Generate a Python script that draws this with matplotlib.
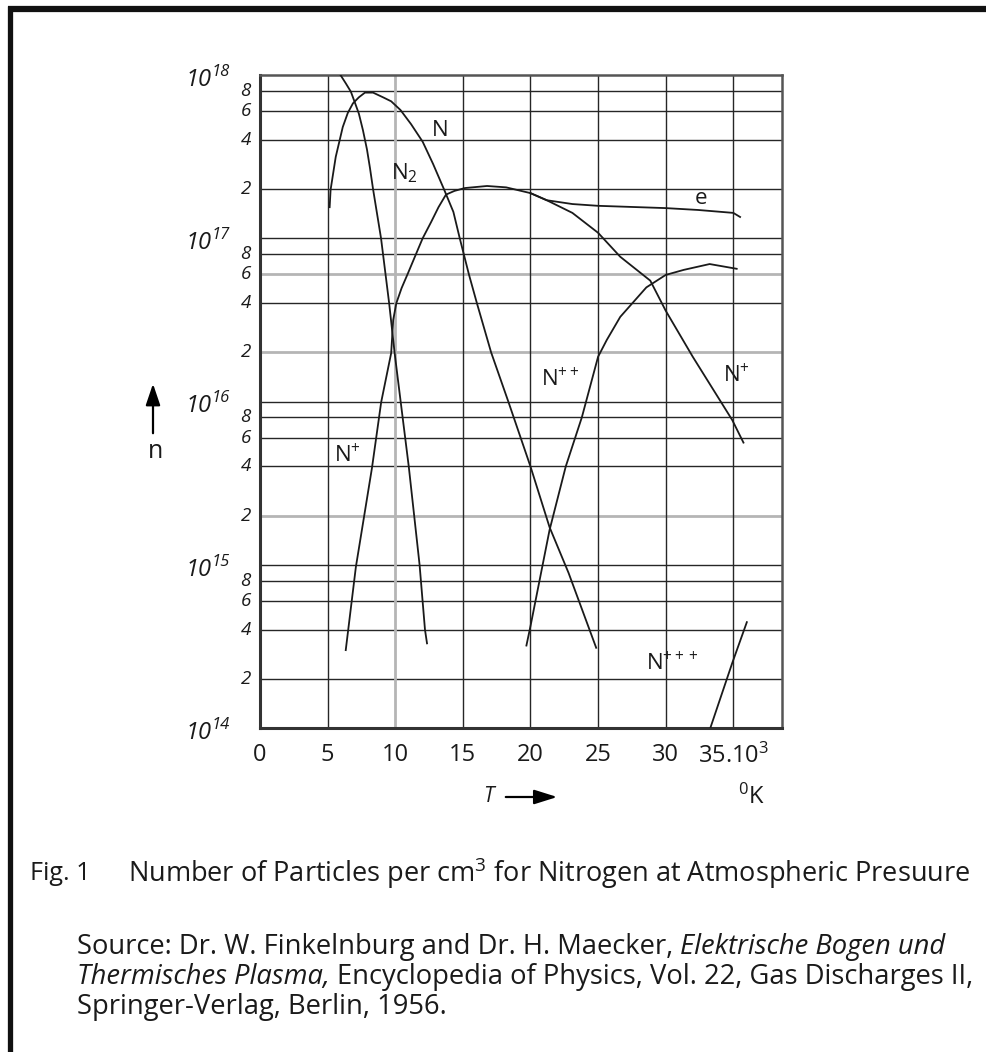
import matplotlib
matplotlib.use("Agg")
import matplotlib.pyplot as plt
from matplotlib.lines import Line2D
import matplotlib.transforms as mtransforms

plt.rcParams['font.family'] = ['Open Sans', 'DejaVu Sans']
plt.rcParams['mathtext.fontset'] = 'custom'
plt.rcParams['mathtext.rm'] = 'Open Sans'
plt.rcParams['mathtext.it'] = 'Open Sans:italic'

# T in 10^3 K, n in particles per cm^3
t_n2 = [5.95, 6.34, 6.72, 7.01, 7.31, 7.61, 7.91, 8.13, 8.36, 8.95, 9.55, 9.95, 10.4,
        11.0, 11.4, 11.8, 12.2, 12.35]
n_n2 = [1e18, 8.9e17, 7.9e17, 6.8e17, 5.8e17, 4.6e17, 3.5e17, 2.7e17, 2e17, 1e17, 4e16,
        2e16, 1e16, 4e15, 2e15, 1e15, 4e14, 3.3e14]

t_n = [5.15, 5.22, 5.6, 6.12, 6.49, 6.87, 7.31, 7.76, 8.36, 9.1, 9.7, 10.39, 11.17,
       12.03, 12.8, 13.6, 14.3, 14.77, 15.45, 16.04, 17.09, 18.36, 20.0, 21.41, 22.82,
       24.86]
n_n = [1.55e17, 1.98e17, 3.15e17, 4.8e17, 5.85e17, 6.7e17, 7.3e17, 7.8e17, 7.8e17,
       7.3e17, 6.9e17, 6.1e17, 5.0e17, 3.9e17, 2.85e17, 2.0e17, 1.45e17, 1.0e17, 6.0e16,
       4.0e16, 2.0e16, 1.0e16, 4.0e15, 1.7e15, 8.9e14, 3.1e14]

t_np = [6.34, 7.09, 7.69, 8.28, 8.96, 9.7, 9.85, 10.08, 10.47, 10.94, 11.48, 12.03,
        12.66, 13.2, 13.75, 14.38, 15.15, 16.79, 18.2, 20.0, 21.2, 23.1, 25.0, 26.64,
        28.86, 30.0, 32.0, 34.92, 35.75]
n_np = [3.0e14, 9.7e14, 1.96e15, 3.92e15, 9.9e15, 1.98e16, 3.16e16, 4.0e16, 4.95e16,
        6.1e16, 7.8e16, 1.0e17, 1.26e17, 1.55e17, 1.85e17, 1.95e17, 2.03e17, 2.09e17,
        2.05e17, 1.89e17, 1.71e17, 1.43e17, 1.08e17, 7.7e16, 5.5e16, 3.6e16, 1.88e16,
        7.7e15, 5.6e15]

t_e = [20.0, 21.2, 23.1, 25.0, 30.0, 32.4, 35.0, 35.5]
n_e = [1.89e17, 1.71e17, 1.62e17, 1.58e17, 1.53e17, 1.49e17, 1.43e17, 1.35e17]

t_npp = [19.7, 20.0, 21.41, 22.61, 23.8, 25.0, 25.64, 26.64, 28.57, 30.0, 31.33, 33.25,
         35.25]
n_npp = [3.2e14, 4.2e14, 1.63e15, 4.0e15, 8.0e15, 1.88e16, 2.38e16, 3.3e16, 5.0e16,
         5.96e16, 6.4e16, 6.95e16, 6.5e16]

t_nppp = [33.3, 34.92, 36.0]
n_nppp = [1.0e14, 2.5e14, 4.45e14]

# curve labels: (text, T, n)
curve_labels = [("N", 13.3, 4.6e17), ("N$_2$", 10.7, 2.5e17), ("e", 32.6, 1.74e17),
                ("N$^{+}$", 6.5, 4.7e15), ("N$^{++}$", 22.2, 1.36e16),
                ("N$^{+}$", 35.25, 1.45e16), ("N$^{+++}$", 30.5, 2.5e14)]

x_ticks = [0, 5, 10, 15, 20, 25, 30, 35]
x_ticklabels = ["0", "5", "10", "15", "20", "25", "30", "35.10$^{3}$"]
decades = [14, 15, 16, 17, 18]
minor_digits = [2, 4, 6, 8]

W, H = 987, 1052
fig = plt.figure(figsize=(W / 100, H / 100), dpi=100)
ax = fig.add_axes([260 / W, 1 - 728 / H, 522 / W, 653 / H])
ax.set_yscale('log')
ax.set_xlim(0, 38.6)
ax.set_ylim(1e14, 1e18)

# grid
gray_rows = [2e15, 2e16, 6e16]
for d in decades[:-1]:
    for m in [1] + minor_digits:
        v = m * 10.0 ** d
        if v in gray_rows:
            ax.axhline(v, color='#b5b5b5', lw=2.0, zorder=1)
        else:
            ax.axhline(v, color='#262626', lw=1.0, zorder=1)
for t in x_ticks[1:]:
    if t == 10:
        ax.axvline(t, color='#b5b5b5', lw=2.0, zorder=1)
    else:
        ax.axvline(t, color='#262626', lw=1.0, zorder=1)

lc = '#1a1a1a'
for tt, nn in [(t_n2, n_n2), (t_n, n_n), (t_np, n_np), (t_e, n_e),
               (t_npp, n_npp), (t_nppp, n_nppp)]:
    ax.plot(tt, nn, color=lc, lw=1.3, zorder=3, solid_joinstyle='round')

for txt, tx, ny in curve_labels:
    ax.text(tx, ny, txt, fontsize=16, ha='center', va='center', color='#1a1a1a', zorder=4)

for s in ['left', 'bottom']:
    ax.spines[s].set_linewidth(2.2)
    ax.spines[s].set_color('#333333')
for s in ['top', 'right']:
    ax.spines[s].set_linewidth(1.8)
    ax.spines[s].set_color('#555555')

ax.set_xticks(x_ticks)
ax.set_xticklabels(x_ticklabels, fontsize=17, color='#1a1a1a')
ax.tick_params(axis='x', length=0, pad=11)
ax.set_yticks([])
ax.minorticks_off()
ax.set_yticks([], minor=True)

# y labels, italic, decade labels split into base and exponent
trans = mtransforms.blended_transform_factory(ax.transAxes, ax.transData)
for d in decades:
    ax.annotate("10", xy=(0, 10.0 ** d), xycoords=trans, xytext=(-48, -5),
                textcoords='offset pixels', fontsize=17, style='italic',
                ha='right', va='center', color='#1a1a1a', annotation_clip=False)
    ax.annotate(str(d), xy=(0, 10.0 ** d), xycoords=trans, xytext=(-48, 3),
                textcoords='offset pixels', fontsize=12, style='italic',
                ha='left', va='center', color='#1a1a1a', annotation_clip=False)
    if d < 18:
        for m in minor_digits:
            ax.annotate(str(m), xy=(0, m * 10.0 ** d), xycoords=trans, xytext=(-9, 0),
                        textcoords='offset pixels', fontsize=13.5, style='italic',
                        ha='right', va='center', color='#1a1a1a', annotation_clip=False)

def fy(y):
    return H - y

# axis arrows
fig.text(155 / W, fy(452) / H, "n", fontsize=18, ha='center', va='center', color='#1a1a1a')
ax.annotate("", xy=(153, fy(381)), xytext=(153, fy(436)), xycoords='figure pixels',
            textcoords='figure pixels',
            arrowprops=dict(arrowstyle='-|>,head_length=0.65,head_width=0.22',
                            mutation_scale=20, lw=1.6, color='k'))
fig.text(488 / W, fy(797) / H, "T", fontsize=15, style='italic', ha='center', va='center',
         color='#1a1a1a')
ax.annotate("", xy=(560, fy(797)), xytext=(503, fy(797)), xycoords='figure pixels',
            textcoords='figure pixels',
            arrowprops=dict(arrowstyle='-|>,head_length=0.7,head_width=0.22',
                            mutation_scale=20, lw=1.6, color='k'))
fig.text(751 / W, fy(797) / H, "$^{0}$K", fontsize=17, ha='center', va='center', color='#1a1a1a')

# frame border (top and left only)
fig.add_artist(Line2D([10.5 / W, 10.5 / W], [0, fy(6) / H], transform=fig.transFigure,
                      color='#111111', lw=3.8, solid_capstyle='butt'))
fig.add_artist(Line2D([8 / W, 1], [fy(9) / H, fy(9) / H], transform=fig.transFigure,
                      color='#111111', lw=4.5, solid_capstyle='butt'))

# captions
fig.canvas.draw()
r = fig.canvas.get_renderer()

def fit(t, width):
    w = t.get_window_extent(r).width
    t.set_fontsize(t.get_fontsize() * width / w)
    return t.get_fontsize()

def line(pieces, x0, y, size):
    x = x0
    gap = size * 100 / 72 * 0.26
    for txt, style in pieces:
        t = fig.text(x / W, fy(y) / H, txt, fontsize=size, style=style,
                     ha='left', va='center', color='#1a1a1a')
        x += t.get_window_extent(r).width + gap
    return x

fig.text(30 / W, fy(873) / H, "Fig. 1", fontsize=18, ha='left', va='center', color='#1a1a1a')
cap = fig.text(128 / W, fy(873) / H,
               "Number of Particles per cm$^{3}$ for Nitrogen at Atmospheric Presuure",
               fontsize=18, ha='left', va='center', color='#1a1a1a')
fit(cap, 842)

probe = fig.text(0, 0, "Source: Dr. W. Finkelnburg and Dr. H. Maecker, Elektrische Bogen und",
                 fontsize=18)
src_size = fit(probe, 891)
probe.remove()

line([("Source: Dr. W. Finkelnburg and Dr. H. Maecker,", 'normal'),
      ("Elektrische Bogen und", 'italic')], 77, 947, src_size)
line([("Thermisches Plasma,", 'italic'),
      ("Encyclopedia of Physics, Vol. 22, Gas Discharges II,", 'normal')], 77, 977, src_size)
line([("Springer-Verlag, Berlin, 1956.", 'normal')], 77, 1007, src_size)

fig.savefig("out.png", dpi=100)
